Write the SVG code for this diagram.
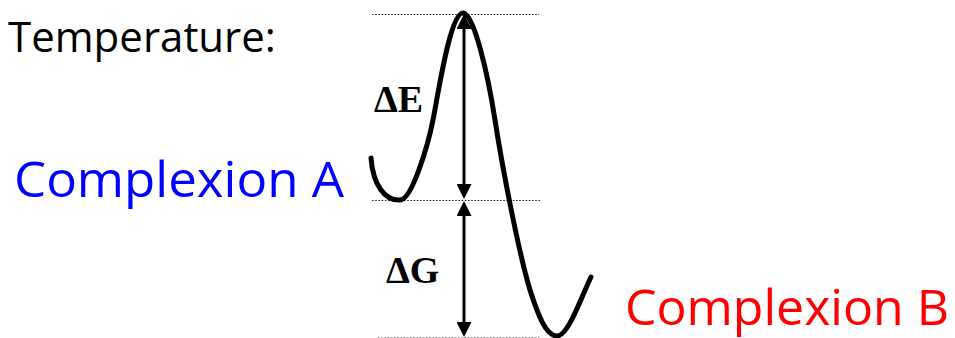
<svg xmlns="http://www.w3.org/2000/svg" width="955" height="338" viewBox="0 0 955 338">
<style>
.lbl{font-family:"Open Sans","Liberation Sans",sans-serif;}
.delta{font-family:"Liberation Serif","Times New Roman",serif;font-weight:bold;font-size:38px;fill:#000;}
.dot{stroke:#222;stroke-width:1.2;stroke-dasharray:1.6,1.6;fill:none;}
.arrow{stroke:#000;stroke-width:3;fill:none;marker-start:url(#head);marker-end:url(#head);}
.curve{stroke:#000;stroke-width:5;fill:none;stroke-linecap:round;stroke-linejoin:round;}
</style>
<defs>
<marker id="head" viewBox="0 0 15 15" markerWidth="15" markerHeight="15" refX="0" refY="7.5" orient="auto-start-reverse" markerUnits="userSpaceOnUse">
<path d="M0,0 L15,7.5 L0,15 z" fill="#000"/>
</marker>
</defs>
<rect width="955" height="338" fill="#fff"/>
<g id="levels">
<line class="dot" x1="372" y1="14.5" x2="539" y2="14.5"/>
<line class="dot" x1="372" y1="200.5" x2="540" y2="200.5"/>
<line class="dot" x1="378" y1="337.5" x2="540" y2="337.5" stroke-opacity="0.5"/>
</g>
<g id="energy-curve">
<path class="curve" d="M371,158 C373,185 385,201 400,200 C412,200 428,145 433,120 C438,95 450,13 463,13 C474,13 488,75 495,120 C502,165 518,250 530,290 C538,315 546,336 557,336 C568,336 580,300 591,277"/>
</g>
<g id="connectors">
<line class="arrow" x1="464" y1="29" x2="464" y2="184"/>
<line class="arrow" x1="464" y1="216" x2="464" y2="322"/>
</g>
<g id="temperature"><text class="lbl" x="8" y="52" font-size="42" fill="#000">Temperature:</text></g>
<g id="complexion-a"><text class="lbl" x="14" y="197" font-size="49" fill="#0000ff" textLength="330" lengthAdjust="spacingAndGlyphs">Complexion A</text></g>
<g id="complexion-b"><text class="lbl" x="625" y="325" font-size="49" fill="#ff0000" textLength="324" lengthAdjust="spacingAndGlyphs">Complexion B</text></g>
<g id="delta-e"><text class="delta" x="374" y="112">ΔE</text></g>
<g id="delta-g"><text class="delta" x="386" y="283">ΔG</text></g>
</svg>
